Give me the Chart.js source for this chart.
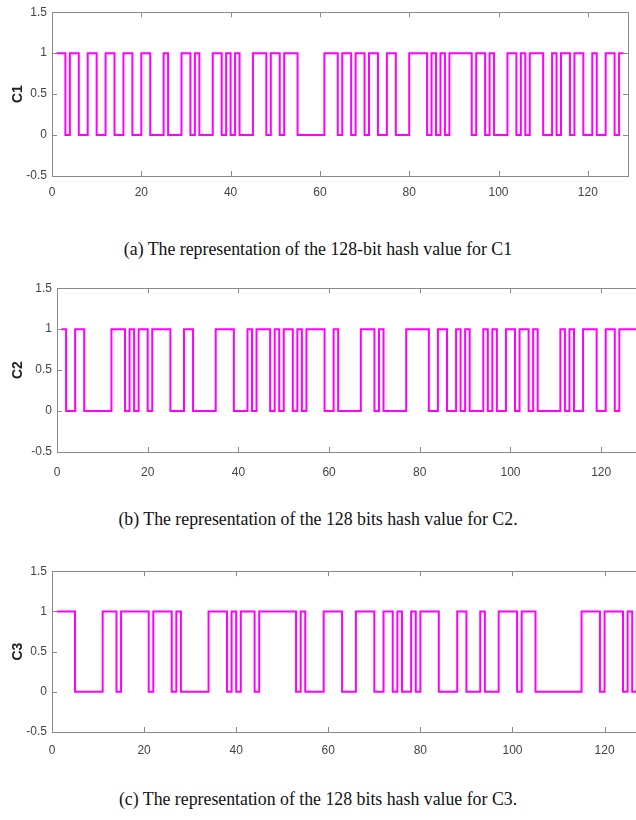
<!DOCTYPE html>
<html><head><meta charset="utf-8">
<script src="https://cdn.jsdelivr.net/npm/chart.js@4.4.1/dist/chart.umd.min.js"></script>
<style>
html,body{margin:0;padding:0;background:#fff;width:636px;height:820px;overflow:hidden;position:relative}
.panel{position:absolute;left:0;width:636px;overflow:hidden}
.cap{position:absolute;left:0;width:636px;text-align:center;font-family:"Liberation Serif","Times New Roman",serif;font-size:17.8px;color:#111;white-space:nowrap}
</style></head><body>
<div class="panel" style="top:0;height:210px"><canvas id="cv1" width="636" height="206"></canvas></div>
<div class="cap" style="top:239px">(a) The representation of the 128-bit hash value for C1</div>
<div class="panel" style="top:276px;height:210px"><canvas id="cv2" width="650" height="206"></canvas></div>
<div class="cap" style="top:509px">(b) The representation of the 128 bits hash value for C2.</div>
<div class="panel" style="top:559px;height:210px"><canvas id="cv3" width="654" height="203"></canvas></div>
<div class="cap" style="top:789px">(c) The representation of the 128 bits hash value for C3.</div>
<script>
// Bit values (x = 1..128)
const bitsC1 = [
 1,1,0,1,1,0,0,1,1,0,0,1,1,0,0,1,
 1,0,0,1,1,0,0,0,1,0,0,0,1,1,0,1,
 0,0,0,1,1,0,1,0,1,0,0,0,1,1,1,0,
 1,1,0,1,1,1,0,0,0,0,0,0,1,1,1,0,
 1,1,0,1,1,0,1,1,0,0,1,1,0,0,0,1,
 1,1,1,0,1,0,1,0,1,1,1,1,1,0,1,1,
 0,1,0,0,0,1,1,0,1,0,1,1,1,0,0,1,
 0,1,1,0,1,1,0,0,1,0,0,1,1,0,1,1
];
const bitsC2 = [
 1,0,0,1,1,0,0,0,0,0,0,1,1,1,0,1,
 0,1,1,0,1,1,1,1,0,0,0,1,1,0,0,0,
 0,0,1,1,1,1,0,0,0,1,0,1,1,1,0,1,
 0,1,1,0,1,0,1,1,1,1,0,0,1,0,0,0,
 0,0,1,1,1,0,1,0,0,0,0,0,1,1,1,1,
 1,0,0,1,1,0,0,1,0,1,0,0,0,1,0,1,
 0,0,1,1,0,1,1,0,1,0,0,0,0,0,1,0,
 1,0,0,1,1,1,0,0,1,1,0,1,1,1,1,1
];
const bitsC3 = [
 1,1,1,1,0,0,0,0,0,0,1,1,1,0,1,1,
 1,1,1,1,0,1,1,1,1,0,1,0,0,0,0,0,
 0,1,1,1,1,0,1,0,1,1,1,0,1,1,1,1,
 1,1,1,1,0,1,0,0,0,0,1,1,1,1,0,0,
 0,1,1,1,1,0,0,1,1,0,1,0,0,1,0,1,
 1,1,1,0,0,0,0,1,1,0,0,0,1,0,0,0,
 1,1,1,1,0,1,1,1,0,0,0,0,0,0,0,0,
 0,0,1,1,1,1,0,1,1,1,1,0,1,0,1,1
];
const xTickValues = [0, 20, 40, 60, 80, 100, 120];
const yTickValues = [-0.5, 0, 0.5, 1, 1.5];
const yTickLabels = ['-0.5', '0', '0.5', '1', '1.5'];
const seriesNames = ['C1', 'C2', 'C3'];

const frameTicks = {
  id: 'frameTicks',
  afterDatasetsDraw(chart) {
    const {ctx, chartArea: a, scales: {x, y}} = chart;
    ctx.save();
    ctx.strokeStyle = '#8a8a8a';
    ctx.lineWidth = 1;
    ctx.strokeRect(Math.round(a.left) + 0.5, Math.round(a.top) + 0.5, Math.round(a.right - a.left), Math.round(a.bottom - a.top));
    const L = 5;
    ctx.beginPath();
    x.ticks.forEach(t => {
      const px = Math.round(x.getPixelForValue(t.value)) + 0.5;
      ctx.moveTo(px, a.bottom); ctx.lineTo(px, a.bottom - L);
      ctx.moveTo(px, a.top); ctx.lineTo(px, a.top + L);
    });
    y.ticks.forEach(t => {
      const py = Math.round(y.getPixelForValue(t.value)) + 0.5;
      ctx.moveTo(a.left, py); ctx.lineTo(a.left + L, py);
      ctx.moveTo(a.right, py); ctx.lineTo(a.right - L, py);
    });
    ctx.stroke();
    ctx.restore();
  }
};

function makeChart(id, bits, name, cfg) {
  new Chart(document.getElementById(id), {
    type: 'line',
    data: {
      datasets: [{
        data: bits.map((b, i) => ({x: i + 1, y: b})),
        borderColor: '#ff00ff',
        borderWidth: 2,
        pointRadius: 0,
        stepped: 'before',
        fill: false
      }]
    },
    options: {
      responsive: false,
      animation: false,
      layout: {padding: {top: 10, right: cfg.padRight, left: 0, bottom: 0}},
      plugins: {legend: {display: false}, tooltip: {enabled: false}},
      scales: {
        x: {
          type: 'linear', min: 0, max: 129,
          grid: {display: false, drawTicks: false},
          border: {display: false},
          afterBuildTicks: s => { s.ticks = xTickValues.map(v => ({value: v})); },
          afterFit: s => { s.height = 30; },
          ticks: {padding: cfg.xPad, color: '#444', font: {family: 'Liberation Sans, Arial, sans-serif', size: 12}, maxRotation: 0}
        },
        y: {
          min: -0.5, max: 1.5,
          grid: {display: false, drawTicks: false},
          border: {display: false},
          afterBuildTicks: s => { s.ticks = yTickValues.map(v => ({value: v})); },
          afterFit: s => { s.width = cfg.left; },
          ticks: {padding: 5, color: '#444', font: {family: 'Liberation Sans, Arial, sans-serif', size: 12},
                  callback: (v) => yTickLabels[yTickValues.indexOf(v)]},
          title: {display: true, text: name, color: '#222', padding: {top: 10, bottom: 0},
                  font: {family: 'Liberation Sans, Arial, sans-serif', size: 14, weight: 'bold'}}
        }
      }
    },
    plugins: [frameTicks]
  });
}

makeChart('cv1', bitsC1, seriesNames[0], {left: 52, padRight: 8, xPad: 9});
makeChart('cv2', bitsC2, seriesNames[1], {left: 57, padRight: 8, xPad: 13});
makeChart('cv3', bitsC3, seriesNames[2], {left: 52, padRight: 8, xPad: 11});
</script>
</body></html>
